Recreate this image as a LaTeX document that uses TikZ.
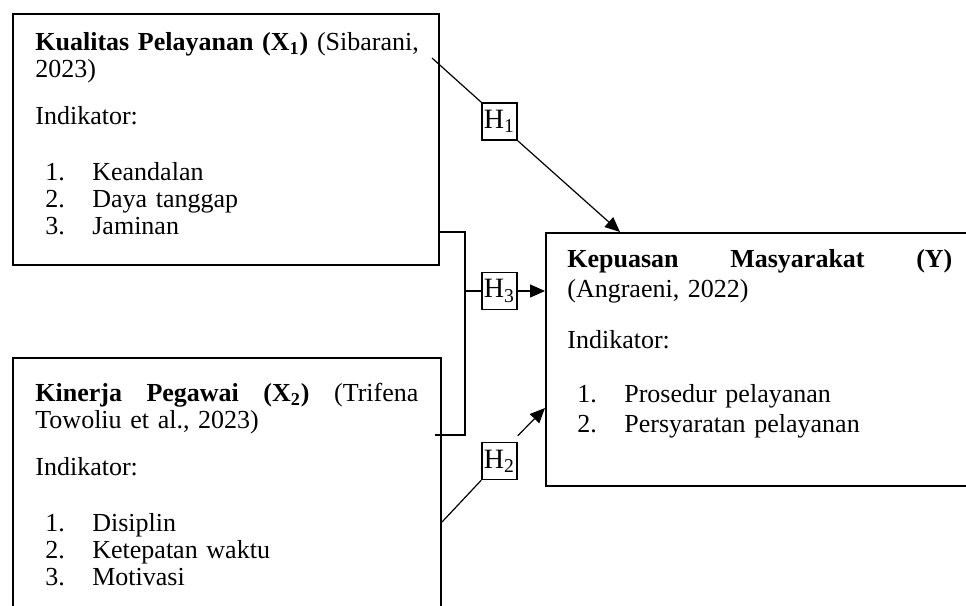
\documentclass[tikz,border=0pt]{standalone}
\usepackage{fontspec}
\setmainfont{Liberation Serif}
\usetikzlibrary{arrows.meta,positioning}
\newcommand{\itm}[2]{\hspace*{5pt}\makebox[23.5pt][l]{#1}#2}

\begin{document}
\begin{tikzpicture}[
    x=0.5pt, y=-0.5pt,
    mybox/.style={
    draw=black,
    line width=1pt,
    inner sep=0pt,
    anchor=north west},
    mytext/.style={
    anchor=north west,
    inner sep=0pt,
    align=left,
    text width=205pt,
    font=\fontsize{13}{13.5}\selectfont},
    hbox/.style={
    draw=black,
    line width=0.75pt,
    inner sep=0pt,
    minimum width=17.5pt,
    minimum height=18.5pt,
    font=\fontsize{14}{14}\selectfont},
    myline/.style={line width=0.6pt},
    myarrow/.style={line width=0.6pt,-{Triangle[length=7.5pt,width=6.5pt]}}
    ]
    \clip (0,0) rectangle (966,606);

    \node[mybox, minimum width=213pt, minimum height=125.5pt] (x1) at (12,13) {};
    \node[mybox, minimum width=214pt, minimum height=131.5pt] (x2) at (12,357) {};
    \node[mybox, minimum width=217.5pt, minimum height=126.5pt] (y) at (545,232) {};

    \node[mytext] (t1) at (35,31) {\strut\textbf{Kualitas Pelayanan (X\textsubscript{1})} (Sibarani,\\
      2023)\\[10pt]
      Indikator:\\[14.5pt]
      \itm{1.}{Keandalan}\\
      \itm{2.}{Daya tanggap}\\
      \itm{3.}{Jaminan}};
    \node[mytext] (t2) at (35,382) {\strut\makebox[191.5pt][l]{\textbf{Kinerja}\hfill\textbf{Pegawai}\hfill\textbf{(X\textsubscript{2})}\hfill(Trifena}\\
      Towoliu et al., 2023)\\[10pt]
      Indikator:\\[14.5pt]
      \itm{1.}{Disiplin}\\
      \itm{2.}{Ketepatan waktu}\\
      \itm{3.}{Motivasi}};
    \node[mytext, font=\fontsize{13}{15}\selectfont] (t3) at (567,246) {\strut\makebox[192.5pt][l]{\textbf{Kepuasan}\hfill\textbf{Masyarakat}\hfill\textbf{(Y)}}\\
      (Angraeni, 2022)\\[10.5pt]
      Indikator:\\[12pt]
      \itm{1.}{Prosedur pelayanan}\\
      \itm{2.}{Persyaratan pelayanan}};

    \node[hbox] (h1) at (499.5,121.5) {H\textsubscript{1}};
    \node[hbox] (h3) at (499.5,291) {H\textsubscript{3}};
    \node[hbox] (h2) at (499.5,461) {H\textsubscript{2}};

    \coordinate (s1) at (432,58);
    \coordinate (j1) at (465,232);
    \coordinate (j2) at (465,435);

    \draw[myline] (s1) -- (h1.north west);
    \draw[myarrow] (h1.south east) -- ([xshift=37.5pt]y.north west);

    \draw[myline] (j1 -| x1.east) -- (j1) -- (j2) -- ([xshift=-3.5pt]j2 -| x2.east);
    \draw[myline] (h3.west -| j1) -- (h3.west);
    \draw[myarrow] (h3.east) -- (h3.east -| y.west);

    \draw[myline] ([yshift=-82.5pt]x2.north east) -- (h2.south west);
    \draw[myarrow] ([yshift=3pt]h2.north east) -- ([yshift=-88pt]y.north west);
\end{tikzpicture}
\end{document}
